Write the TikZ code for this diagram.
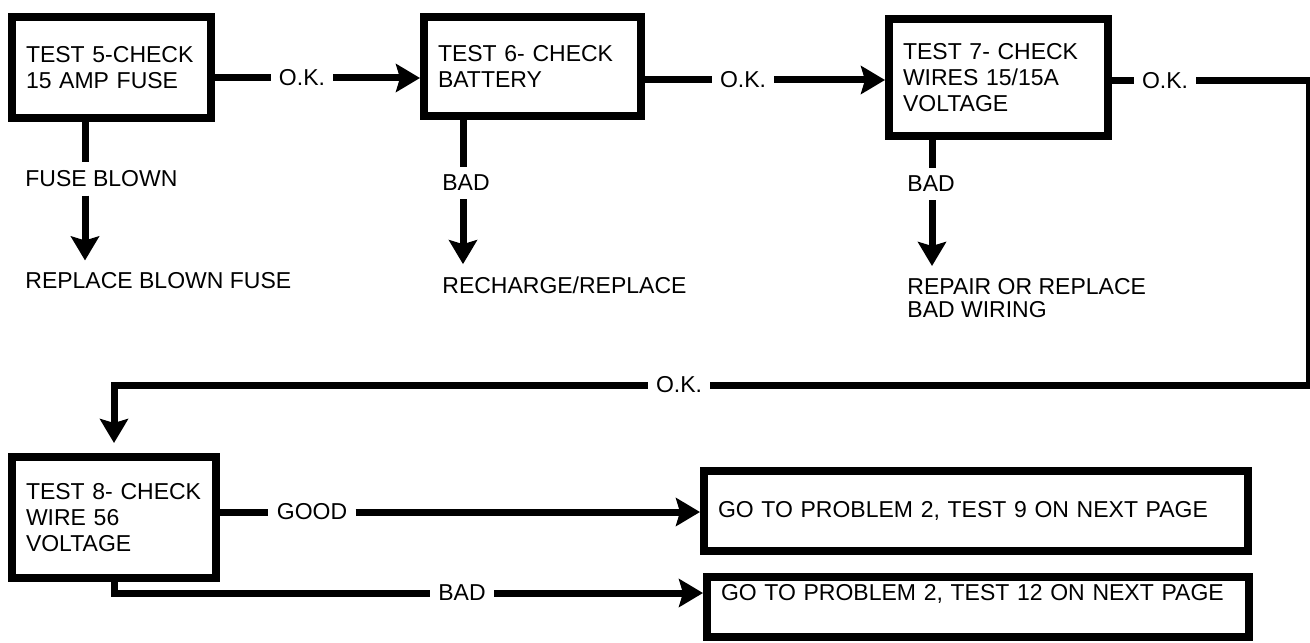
\documentclass[tikz,border=0pt]{standalone}
\usepackage{fontspec}
\setmainfont{Liberation Sans}
\usetikzlibrary{arrows.meta}

\tikzset{
  testbox/.style={draw, line width=4pt, inner xsep=7pt, inner ysep=4pt, align=left},
  lbl/.style={inner sep=4pt},
  flow/.style={line width=3.5pt},
}

\begin{document}
\begin{tikzpicture}[font=\fontsize{11.5}{13}\selectfont, >={Stealth[length=12pt,width=14pt,inset=2pt]}, x=0.5pt, y=-0.5pt]
\useasboundingbox (0,0) rectangle (1310,642);
% first row: tests 5 to 7
\node[testbox, text width=85.5pt, minimum height=50.5pt] (t5) at (111.5,67.5) {TEST 5-CHECK\\15 AMP FUSE};
\node[testbox, text width=94.5pt, minimum height=49.5pt] (t6) at (532.5,66.5) {TEST 6- CHECK\\BATTERY};
\node[testbox, text width=95.5pt, minimum height=58.5pt] (t7) at (998.5,77.5) {TEST 7- CHECK\\WIRES 15/15A\\VOLTAGE};
\node[lbl] (ok1) at (302,78) {O.K.};
\node[lbl] (ok2) at (743,80) {O.K.};
\node[lbl] (ok3) at (1165,81) {O.K.};
\draw[flow] (t5.east |- ok1) -- (ok1);
\draw[flow,->] (ok1) -- (t6.west |- ok1);
\draw[flow] (t6.east |- ok2) -- (ok2);
\draw[flow,->] (ok2) -- (t7.west |- ok2);
\draw[flow] (t7.east |- ok3) -- (ok3);
% failures hang below each test
\coordinate (x5) at (85,0);
\coordinate (x6) at (463,0);
\coordinate (x7) at (932,0);
\node[lbl, anchor=west] (fb) at (17,179) {FUSE BLOWN};
\node[lbl, anchor=west] (rbf) at (17,281) {REPLACE BLOWN FUSE};
\node[lbl, anchor=west] (bad6) at (434,183) {BAD};
\node[lbl, anchor=west] (rr) at (434,285) {RECHARGE/REPLACE};
\node[lbl, anchor=west] (bad7) at (899,184) {BAD};
\node[lbl, anchor=north west, align=left] (rw) at (899,270) {REPAIR OR REPLACE\\[-1.5pt]BAD WIRING};
\draw[flow] (t5.south -| x5) -- (fb.north -| x5);
\draw[flow,->,shorten >=2pt] (fb.south -| x5) -- (rbf.north -| x5);
\draw[flow] (t6.south -| x6) -- (bad6.north -| x6);
\draw[flow,->,shorten >=2pt] (bad6.south -| x6) -- (rr.north -| x6);
\draw[flow] (t7.south -| x7) -- (bad7.north -| x7);
\draw[flow,->,shorten >=2pt] (bad7.south -| x7) -- (rw.north -| x7);
% second row: test 8 and where it leads
\node[testbox, text width=88pt, minimum height=60.5pt] (t8) at (114,517.5) {TEST 8- CHECK\\WIRE 56\\VOLTAGE};
\node[testbox, text width=258pt, minimum height=40pt] (t9) at (976,511) {GO TO PROBLEM 2, TEST 9 ON NEXT PAGE};
\node[testbox, text width=257pt, text depth=15pt, inner ysep=3.5pt] (t12) at (978,607) {GO TO PROBLEM 2, TEST 12 ON NEXT PAGE};
% O.K. from test 7 runs round the right edge back to test 8
\coordinate (ne) at (1309,81);
\coordinate (se) at (1309,385);
\node[lbl] (ok4) at (679,385) {O.K.};
\draw[flow] (ok3) -- (ne) -- (se) -- (ok4);
\draw[flow,->,shorten >=5pt] (ok4) -| (t8);
\node[lbl] (good) at (312,512) {GOOD};
\node[lbl] (bad8) at (462,593) {BAD};
\draw[flow] (t8.east |- good) -- (good);
\draw[flow,->] (good) -- (t9.west |- good);
\draw[flow] (t8.south) |- (bad8);
\draw[flow,->] (bad8) -- (t12.west |- bad8);
\end{tikzpicture}
\end{document}
